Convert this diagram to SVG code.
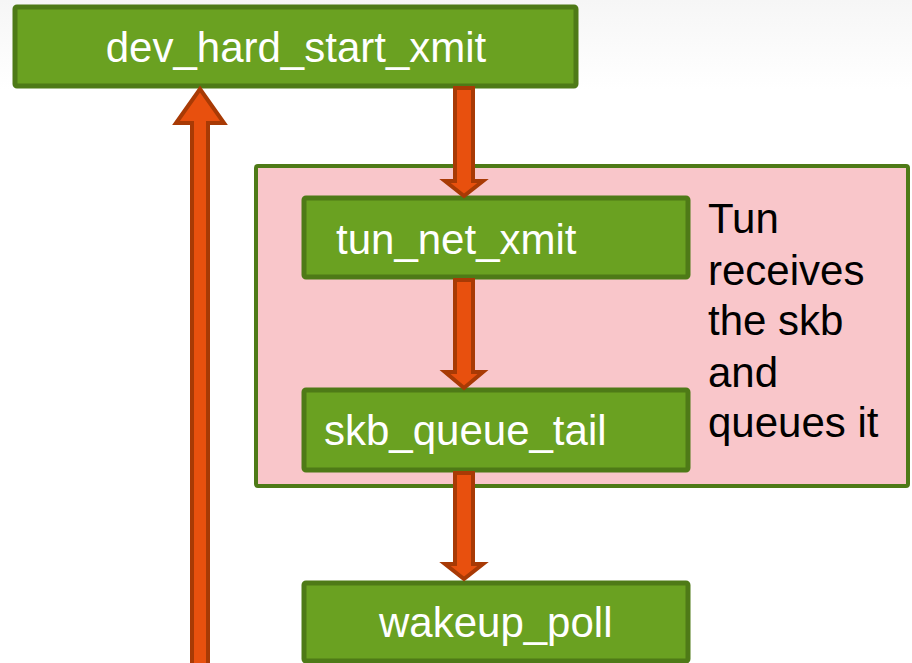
<svg xmlns="http://www.w3.org/2000/svg" width="912" height="663" viewBox="0 0 912 663">
  <defs>
    <linearGradient id="bg" x1="0" y1="0" x2="0" y2="1">
      <stop offset="0" stop-color="#f6f6f6"/>
      <stop offset="1" stop-color="#ffffff"/>
    </linearGradient>
    <style>
      .box { fill: #6aa121; stroke: #4e7a17; stroke-width: 5; }
      .group { fill: #f9c6ca; stroke: #4e7a17; stroke-width: 4; }
      .lbl { font-family: "Liberation Sans", Arial, sans-serif; font-size: 42px; fill: #ffffff; }
      .note { font-family: "Liberation Sans", Arial, sans-serif; font-size: 42px; fill: #000000; }
      .arrow { fill: #e8500e; stroke: #a83a05; stroke-width: 4; stroke-linejoin: miter; stroke-miterlimit: 10; }
    </style>
  </defs>
  <rect x="0" y="0" width="912" height="663" fill="#ffffff"/>
  <rect x="0" y="0" width="912" height="90" fill="url(#bg)"/>

  <g id="tun-group">
    <rect class="group" x="256" y="166" width="652" height="320" rx="2"/>
    <text class="note" x="708" y="233">Tun</text>
    <text class="note" x="708" y="285">receives</text>
    <text class="note" x="708" y="335">the skb</text>
    <text class="note" x="708" y="387">and</text>
    <text class="note" x="708" y="437">queues it</text>
  </g>

  <g id="dev_hard_start_xmit">
    <rect class="box" x="15" y="7" width="561" height="79" rx="2"/>
    <text class="lbl" x="296" y="62" text-anchor="middle">dev_hard_start_xmit</text>
  </g>

  <g id="tun_net_xmit">
    <rect class="box" x="304" y="198" width="384" height="79" rx="2"/>
    <text class="lbl" x="336" y="254">tun_net_xmit</text>
  </g>

  <g id="skb_queue_tail">
    <rect class="box" x="304" y="390" width="384" height="80" rx="2"/>
    <text class="lbl" x="324" y="445">skb_queue_tail</text>
  </g>

  <g id="wakeup_poll">
    <rect class="box" x="304" y="583" width="384" height="78" rx="2"/>
    <text class="lbl" x="379" y="637">wakeup_poll</text>
  </g>

  <g id="connectors">
    <polygon class="arrow" points="455,88 473,88 473,181 483,181 464,196 445,181 455,181"/>
    <polygon class="arrow" points="455,280 473,280 473,372 483,372 464,388 445,372 455,372"/>
    <polygon class="arrow" points="455,473 473,473 473,564 483,564 464,579 445,564 455,564"/>
    <polygon class="arrow" points="192,670 192,123 176,123 200,89 224,123 208,123 208,670"/>
  </g>
</svg>
